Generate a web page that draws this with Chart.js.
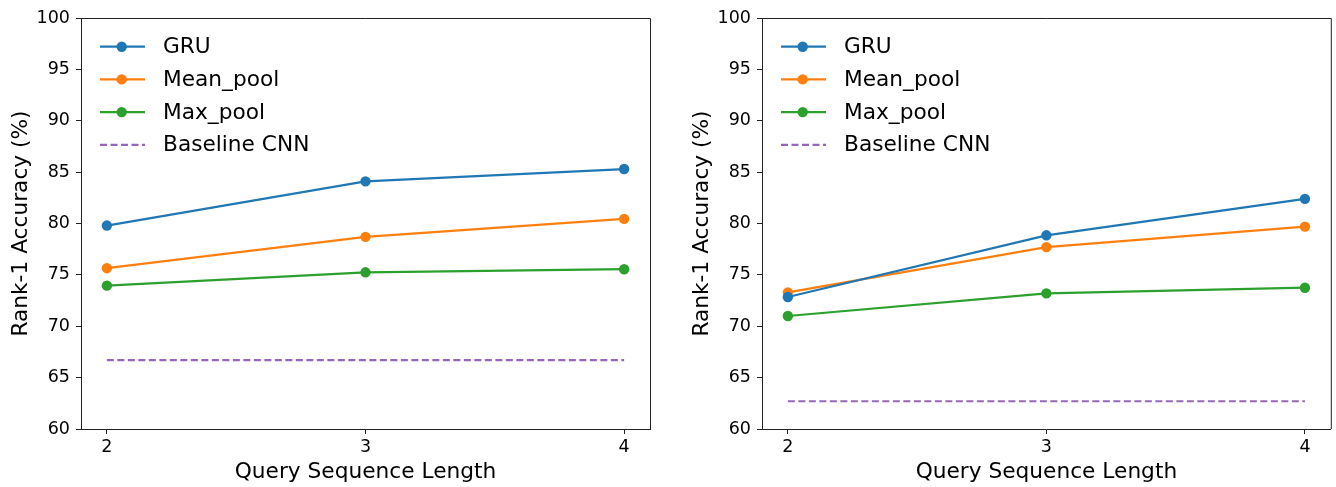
<!DOCTYPE html>
<html>
<head>
<meta charset="utf-8">
<script src="https://cdn.jsdelivr.net/npm/chart.js@4.4.1/dist/chart.umd.min.js"></script>
<style>
  html, body { margin: 0; background: #fff; }
  #wrap { position: relative; width: 1336px; height: 487px; }
  canvas { position: absolute; top: 0; }
</style>
</head>
<body>
<div id="wrap">
  <canvas id="c-left" width="668" height="487" style="left:0"></canvas>
  <canvas id="c-right" width="668" height="487" style="left:668px"></canvas>
</div>
<script>
// Datos
const seqLengths   = [2, 3, 4];
const yTicks       = [60, 65, 70, 75, 80, 85, 90, 95, 100];
const seriesNames  = ["GRU", "Mean_pool", "Max_pool", "Baseline CNN"];
const seriesColors = ["#1f77b4", "#ff7f0e", "#2ca02c", "#9467bd"];

const leftGru       = [79.8, 84.1, 85.3];
const leftMean      = [75.65, 78.7, 80.45];
const leftMax       = [73.95, 75.25, 75.55];
const leftBaseline  = [66.7, 66.7, 66.7];

const rightGru      = [72.85, 78.85, 82.4];
const rightMean     = [73.3, 77.7, 79.7];
const rightMax      = [71.0, 73.2, 73.75];
const rightBaseline = [62.7, 62.7, 62.7];

const FONT = "'DejaVu Sans', sans-serif";
Chart.defaults.font.family = FONT;
Chart.defaults.color = "#000";

const pts = arr => arr.map((v, i) => ({ x: seqLengths[i], y: v }));

// marco superior/derecho + leyenda dentro del área
const framePlugin = {
  id: "frame",
  afterDraw(chart) {
    const { ctx, chartArea: a } = chart;
    ctx.save();
    ctx.strokeStyle = "#222";
    ctx.lineWidth = 1;
    ctx.beginPath();
    ctx.moveTo(a.left, a.top + 0.5);
    ctx.lineTo(a.right + 0.5, a.top + 0.5);
    ctx.lineTo(a.right + 0.5, a.bottom);
    ctx.stroke();

    // leyenda
    ctx.font = `21.7px ${FONT}`;
    ctx.textBaseline = "middle";
    ctx.textAlign = "left";
    seriesNames.forEach((name, i) => {
      const y = a.top + 28.7 + i * 32.7;
      const x0 = a.left + 19, x1 = a.left + 64;
      ctx.strokeStyle = seriesColors[i];
      ctx.lineWidth = 2.2;
      ctx.setLineDash(i === 3 ? [7, 3.5] : []);
      ctx.beginPath();
      ctx.moveTo(x0, y);
      ctx.lineTo(x1, y);
      ctx.stroke();
      ctx.setLineDash([]);
      if (i < 3) {
        ctx.fillStyle = seriesColors[i];
        ctx.beginPath();
        ctx.arc(a.left + 40.7, y, 5.2, 0, Math.PI * 2);
        ctx.fill();
      }
      ctx.fillStyle = "#000";
      ctx.fillText(name, a.left + 82, y + 1);
    });
    ctx.restore();
  }
};

function makeChart(id, series, padLeft, padRight) {
  const datasets = series.map((s, i) => ({
    label: seriesNames[i],
    data: pts(s),
    borderColor: seriesColors[i],
    backgroundColor: seriesColors[i],
    borderWidth: 2.2,
    borderDash: i === 3 ? [7, 3.5] : [],
    pointRadius: i === 3 ? 0 : 5.2,
    pointHoverRadius: i === 3 ? 0 : 5.2,
    pointBorderWidth: 0,
    tension: 0
  }));

  return new Chart(document.getElementById(id), {
    type: "line",
    data: { datasets },
    options: {
      responsive: false,
      animation: false,
      devicePixelRatio: 1,
      layout: { padding: { left: padLeft, right: padRight, top: 18, bottom: 0 } },
      plugins: { legend: { display: false }, tooltip: { enabled: false } },
      scales: {
        x: {
          type: "linear",
          min: 1.9, max: 4.1,
          afterBuildTicks: sc => { sc.ticks = seqLengths.map(v => ({ value: v })); },
          afterFit: sc => { sc.height = 58; },
          grid: { drawOnChartArea: false, tickLength: 5, tickColor: "#222" },
          border: { color: "#222", width: 1 },
          ticks: { font: { size: 17.5 }, padding: 3, maxRotation: 0, callback: v => String(v) },
          title: { display: true, text: "Query Sequence Length", font: { size: 21.7 }, padding: { top: 0, bottom: 2 } }
        },
        y: {
          min: 60, max: 100,
          afterBuildTicks: sc => { sc.ticks = yTicks.map(v => ({ value: v })); },
          afterFit: sc => { sc.width = 81; },
          grid: { drawOnChartArea: false, tickLength: 5, tickColor: "#222" },
          border: { color: "#222", width: 1 },
          ticks: { font: { size: 17.5 }, padding: 6, callback: v => String(v) },
          title: { display: true, text: "Rank-1 Accuracy (%)", font: { size: 21.7 }, padding: { top: 8, bottom: 0 } }
        }
      }
    },
    plugins: [framePlugin]
  });
}

makeChart("c-left",  [leftGru, leftMean, leftMax, leftBaseline], 0, 18);
makeChart("c-right", [rightGru, rightMean, rightMax, rightBaseline], 13, 5);
</script>
</body>
</html>
